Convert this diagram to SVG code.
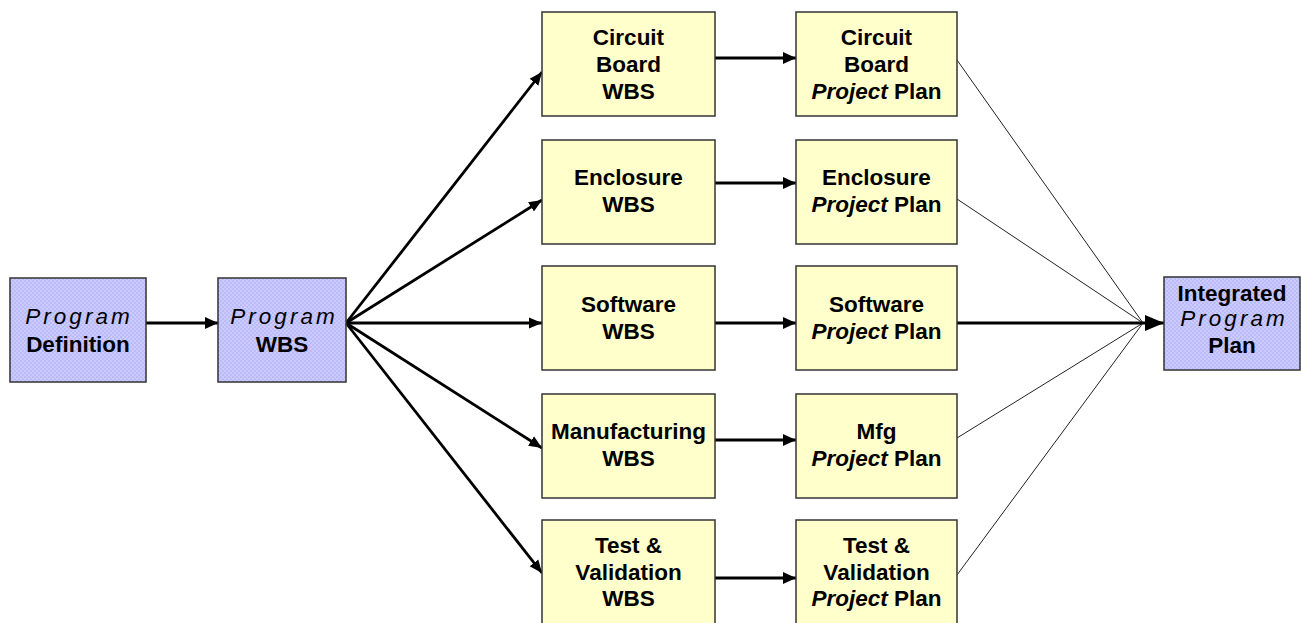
<svg xmlns="http://www.w3.org/2000/svg" width="1302" height="623" viewBox="0 0 1302 623">
<defs>
<pattern id="dots" width="4" height="4" patternUnits="userSpaceOnUse">
<rect width="4" height="4" fill="#cbcbff"/>
<circle cx="1" cy="1" r="0.8" fill="#a6a6f2"/>
<circle cx="3" cy="3" r="0.8" fill="#a6a6f2"/>
</pattern>
<marker id="ah" markerUnits="userSpaceOnUse" markerWidth="14" markerHeight="14" refX="13" refY="6" orient="auto" viewBox="0 0 14 12">
<path d="M0,0 L13,6 L0,12 Z" fill="#000"/>
</marker>
<marker id="ahs" markerUnits="userSpaceOnUse" markerWidth="14" markerHeight="12" refX="13" refY="5.5" orient="auto" viewBox="0 0 14 11">
<path d="M0,0 L13,5.5 L0,11 Z" fill="#000"/>
</marker>
<marker id="ahb" markerUnits="userSpaceOnUse" markerWidth="20" markerHeight="18" refX="19" refY="8" orient="auto" viewBox="0 0 20 16">
<path d="M0,0 L19,8 L0,16 Z" fill="#000"/>
</marker>
</defs>
<style>
.blue{fill:url(#dots);stroke:#333;stroke-width:1.5}
.yel{fill:#ffffcc;stroke:#333;stroke-width:1.5}
text{font-family:"Liberation Sans",Arial,sans-serif;font-size:22.5px;font-weight:bold;fill:#000;text-anchor:middle}
.pg{font-style:italic;font-weight:normal;letter-spacing:3px}
.pj{font-style:italic}
.thick{stroke:#000;stroke-width:3;fill:none}
.fan{stroke:#000;stroke-width:2.8;fill:none}
.thin{stroke:#222;stroke-width:1;fill:none}
</style>
<rect width="1302" height="623" fill="#fff"/>
<g id="connectors">
<line class="thick" x1="146" y1="323" x2="218" y2="323" marker-end="url(#ah)"/>
<line class="fan" x1="346" y1="323" x2="542" y2="72" marker-end="url(#ahs)"/>
<line class="fan" x1="346" y1="323" x2="542" y2="200" marker-end="url(#ahs)"/>
<line class="fan" x1="346" y1="323" x2="542" y2="323" marker-end="url(#ahs)"/>
<line class="fan" x1="346" y1="323" x2="542" y2="448" marker-end="url(#ahs)"/>
<line class="fan" x1="346" y1="323" x2="542" y2="573" marker-end="url(#ahs)"/>
<line class="thick" x1="715" y1="58" x2="796" y2="58" marker-end="url(#ah)"/>
<line class="thick" x1="715" y1="183" x2="796" y2="183" marker-end="url(#ah)"/>
<line class="thick" x1="715" y1="323" x2="796" y2="323" marker-end="url(#ah)"/>
<line class="thick" x1="715" y1="440" x2="796" y2="440" marker-end="url(#ah)"/>
<line class="thick" x1="715" y1="578" x2="796" y2="578" marker-end="url(#ah)"/>
<line class="thin" x1="957" y1="60" x2="1143" y2="323"/>
<line class="thin" x1="957" y1="199" x2="1143" y2="323"/>
<line class="thin" x1="957" y1="438" x2="1143" y2="323"/>
<line class="thin" x1="957" y1="575" x2="1143" y2="323"/>
<line class="thick" x1="957" y1="323" x2="1164" y2="323" marker-end="url(#ahb)"/>
</g>
<g id="program-definition">
<rect class="blue" x="10" y="278" width="136" height="104"/>
<text x="79" y="324" class="pg">Program</text>
<text x="78" y="352">Definition</text>
</g>
<g id="program-wbs">
<rect class="blue" x="218" y="278" width="128" height="104"/>
<text x="284" y="324" class="pg">Program</text>
<text x="282" y="352">WBS</text>
</g>
<g id="circuit-board-wbs">
<rect class="yel" x="542" y="12" width="173" height="104"/>
<text x="628.5" y="45">Circuit</text>
<text x="628.5" y="72">Board</text>
<text x="628.5" y="99">WBS</text>
</g>
<g id="enclosure-wbs">
<rect class="yel" x="542" y="140" width="173" height="104"/>
<text x="628.5" y="185">Enclosure</text>
<text x="628.5" y="212">WBS</text>
</g>
<g id="software-wbs">
<rect class="yel" x="542" y="266" width="173" height="104"/>
<text x="628.5" y="312">Software</text>
<text x="628.5" y="339">WBS</text>
</g>
<g id="manufacturing-wbs">
<rect class="yel" x="542" y="394" width="173" height="104"/>
<text x="628.5" y="439">Manufacturing</text>
<text x="628.5" y="466">WBS</text>
</g>
<g id="test-validation-wbs">
<rect class="yel" x="542" y="520" width="173" height="110"/>
<text x="628.5" y="553">Test &amp;</text>
<text x="628.5" y="580">Validation</text>
<text x="628.5" y="606">WBS</text>
</g>
<g id="circuit-board-plan">
<rect class="yel" x="796" y="12" width="161" height="104"/>
<text x="876.5" y="45">Circuit</text>
<text x="876.5" y="72">Board</text>
<text x="876.5" y="99"><tspan class="pj">Project</tspan> Plan</text>
</g>
<g id="enclosure-plan">
<rect class="yel" x="796" y="140" width="161" height="104"/>
<text x="876.5" y="185">Enclosure</text>
<text x="876.5" y="212"><tspan class="pj">Project</tspan> Plan</text>
</g>
<g id="software-plan">
<rect class="yel" x="796" y="266" width="161" height="104"/>
<text x="876.5" y="312">Software</text>
<text x="876.5" y="339"><tspan class="pj">Project</tspan> Plan</text>
</g>
<g id="mfg-plan">
<rect class="yel" x="796" y="394" width="161" height="104"/>
<text x="876.5" y="439">Mfg</text>
<text x="876.5" y="466"><tspan class="pj">Project</tspan> Plan</text>
</g>
<g id="test-validation-plan">
<rect class="yel" x="796" y="520" width="161" height="110"/>
<text x="876.5" y="553">Test &amp;</text>
<text x="876.5" y="580">Validation</text>
<text x="876.5" y="606"><tspan class="pj">Project</tspan> Plan</text>
</g>
<g id="integrated-program-plan">
<rect class="blue" x="1164" y="277" width="136" height="93"/>
<text x="1232" y="301">Integrated</text>
<text x="1234" y="326" class="pg">Program</text>
<text x="1232" y="353">Plan</text>
</g>
</svg>
